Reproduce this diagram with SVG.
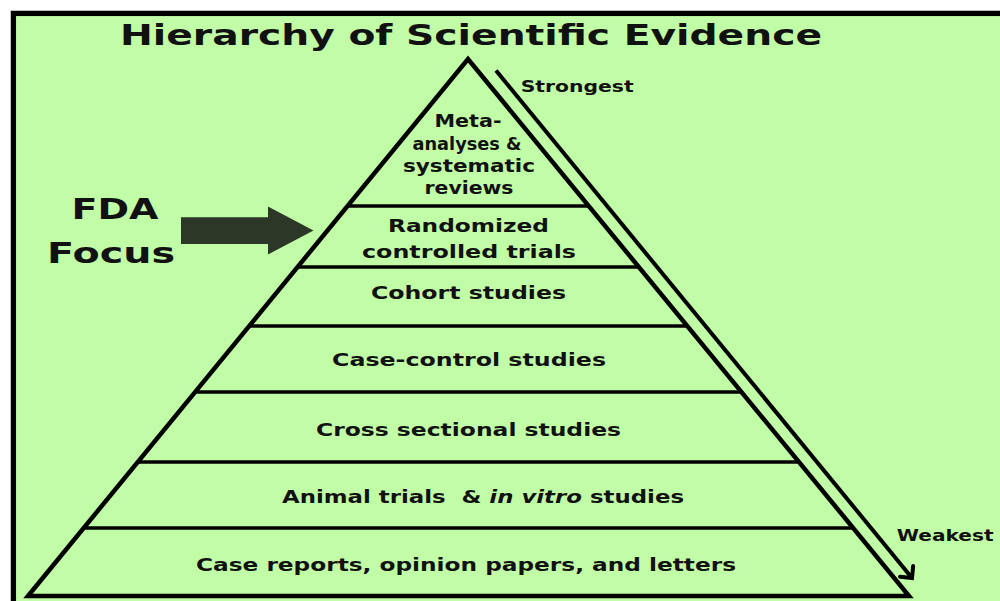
<svg xmlns="http://www.w3.org/2000/svg" width="1000" height="601" viewBox="0 0 1000 601">
  <style>
    .lbl { font-family: "DejaVu Sans", "Liberation Sans", sans-serif; font-weight: bold; fill: #111; }
    .tier { font-size: 18px; text-anchor: middle; }
    .top { font-size: 17px; text-anchor: middle; }
    .edge { fill: none; stroke: #000; stroke-width: 4.5; stroke-linejoin: miter; }
    .rule { stroke: #000; stroke-width: 3.5; }
  </style>
  <defs>
    <marker id="chevron" markerUnits="userSpaceOnUse" markerWidth="24" markerHeight="24" viewBox="-12 -12 24 24" refX="0" refY="0" orient="auto" overflow="visible">
      <path d="M -8.5 -8.5 L 0 0 L -8.5 8.5" fill="none" stroke="#000" stroke-width="4" stroke-linecap="round" stroke-linejoin="miter"/>
    </marker>
  </defs>

  <!-- page and frame -->
  <rect x="0" y="0" width="1000" height="601" fill="#ffffff"/>
  <rect x="13.4" y="13.4" width="1000" height="600" fill="#c1fda6" stroke="#000" stroke-width="5.3"/>

  <!-- title -->
  <text class="lbl" x="120" y="45" font-size="29" textLength="702" lengthAdjust="spacingAndGlyphs">Hierarchy of Scientific Evidence</text>

  <!-- pyramid outline and tier dividers -->
  <g id="pyramid">
    <path class="edge" d="M 28 596 L 468 59 L 909 596 Z"/>
    <line class="rule" x1="347.6" y1="206" x2="588.3" y2="206"/>
    <line class="rule" x1="297.6" y1="267" x2="638.4" y2="267"/>
    <line class="rule" x1="249.2" y1="326" x2="686.6" y2="326"/>
    <line class="rule" x1="195.1" y1="392" x2="740.4" y2="392"/>
    <line class="rule" x1="137.8" y1="462" x2="797.7" y2="462"/>
    <line class="rule" x1="83.7" y1="528" x2="851.9" y2="528"/>
  </g>

  <g id="tier-meta">
    <text class="lbl top" x="468" y="127" textLength="67" lengthAdjust="spacingAndGlyphs">Meta-</text>
    <text class="lbl top" x="467" y="150" textLength="109" lengthAdjust="spacingAndGlyphs">analyses &amp;</text>
    <text class="lbl top" x="469" y="172" textLength="132" lengthAdjust="spacingAndGlyphs">systematic</text>
    <text class="lbl top" x="469" y="194" textLength="89" lengthAdjust="spacingAndGlyphs">reviews</text>
  </g>
  <g id="tier-rct">
    <text class="lbl tier" x="468.5" y="232" textLength="161" lengthAdjust="spacingAndGlyphs">Randomized</text>
    <text class="lbl tier" x="469" y="258" textLength="214" lengthAdjust="spacingAndGlyphs">controlled trials</text>
  </g>
  <g id="tier-cohort">
    <text class="lbl tier" x="468.5" y="299" textLength="195" lengthAdjust="spacingAndGlyphs">Cohort studies</text>
  </g>
  <g id="tier-case-control">
    <text class="lbl tier" x="469" y="366" textLength="274" lengthAdjust="spacingAndGlyphs">Case-control studies</text>
  </g>
  <g id="tier-cross-sectional">
    <text class="lbl tier" x="468.5" y="436" textLength="305" lengthAdjust="spacingAndGlyphs">Cross sectional studies</text>
  </g>
  <g id="tier-animal">
    <text class="lbl tier" x="483" y="503" textLength="402" lengthAdjust="spacingAndGlyphs" style="white-space: pre">Animal trials  &amp; <tspan font-style="italic">in vitro</tspan> studies</text>
  </g>
  <g id="tier-case-reports">
    <text class="lbl tier" x="466" y="571" textLength="540" lengthAdjust="spacingAndGlyphs">Case reports, opinion papers, and letters</text>
  </g>

  <!-- FDA focus callout -->
  <g id="fda-focus">
    <text class="lbl" x="71.5" y="219.3" font-size="29" textLength="87" lengthAdjust="spacingAndGlyphs">FDA</text>
    <text class="lbl" x="47" y="263.3" font-size="29" textLength="128" lengthAdjust="spacingAndGlyphs">Focus</text>
    <polygon points="181,217.3 268,217.3 268,206.5 313.5,230.5 268,254.5 268,244 181,244" fill="#2c3727"/>
  </g>

  <!-- strength scale -->
  <g id="connectors">
    <line x1="496" y1="70.5" x2="912" y2="578" stroke="#000" stroke-width="4" marker-end="url(#chevron)"/>
  </g>
  <g id="scale-labels">
    <text class="lbl" x="520.7" y="91.5" font-size="16.5" textLength="113" lengthAdjust="spacingAndGlyphs">Strongest</text>
    <text class="lbl" x="896.7" y="540.7" font-size="16" textLength="97" lengthAdjust="spacingAndGlyphs">Weakest</text>
  </g>
</svg>
